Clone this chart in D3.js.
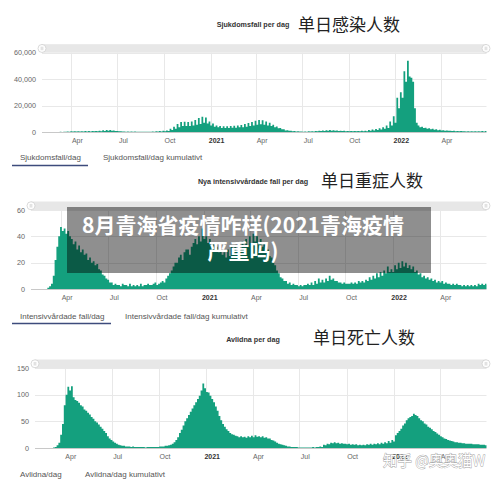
<!DOCTYPE html>
<html><head><meta charset="utf-8">
<script src="https://cdn.jsdelivr.net/npm/d3@7"></script>
<style>body{margin:0;background:#fff}svg{display:block}</style>
</head><body>
<svg id="c" width="500" height="481"></svg>
<script>
// ---------- DATA ----------
const startDate = "2020-02-03";   // first bar; each value covers half a week (3.5 days)
const endDate = "2022-06-30";

// Sjukdomsfall per dag (two values per week)
const casesValues = [
  0,0, 0,0, 10,0, 20,5,                          // Feb 3 2020
  60,20, 150,80, 250,150, 350,250,               // Mar 2
  500,350, 600,400, 650,400, 650,450,            // Mar 30
  700,450, 700,450, 750,500, 800,500,            // Apr 27
  1000,600, 1300,800, 1600,1000, 1500,900,       // May 25
  1200,700, 800,500, 500,300, 400,250,           // Jun 22
  300,200, 300,200, 300,200, 250,150,            // Jul 20
  250,150, 250,150, 250,180, 300,200,            // Aug 17
  500,300, 700,400, 900,600, 1200,800,           // Sep 14
  2500,1500, 4000,2500, 6000,3500, 7500,4500,    // Oct 12
  7800,4500, 7500,4500, 8000,5000, 9000,5500,    // Nov 9
  10500,6000, 11500,7000, 11000,6500, 8000,5000, // Dec 7
  6500,4000, 5000,3500, 4500,3000, 4300,3000,    // Jan 4 2021
  4300,3000, 4500,3200, 4800,3300, 5000,3500,    // Feb 1
  5300,3600, 6000,4000, 6800,4500, 7500,5000,    // Mar 1
  8500,5500, 9000,5800, 8800,5500, 8000,5000,    // Mar 29
  7000,4500, 5500,3500, 4200,2800, 3000,2000,    // Apr 26
  2000,1200, 1400,900, 900,600, 700,450,         // May 24
  500,300, 400,250, 400,250, 500,300,            // Jun 21
  600,400, 800,500, 1000,700, 1200,800,          // Jul 19
  1400,900, 1500,1000, 1400,900, 1200,800,       // Aug 16
  1000,700, 900,600, 800,550, 700,500,           // Sep 13
  700,500, 800,500, 900,600, 1000,650,           // Oct 11
  1500,1000, 1800,1200, 2200,1500, 2800,1800,    // Nov 8
  3500,2500, 5000,3000, 8000,5000, 12000,7000,   // Dec 6
  26000,18000, 30000,26000, 46000,38000, 54000,42000, // Jan 3 2022
  41000,38000, 18000,7000, 5000,3500, 4000,3000, // Jan 31
  3200,2400, 2800,2000, 2400,1700, 2000,1400,    // Feb 28
  1700,1200, 1400,1000, 1200,900, 1000,700,      // Mar 28
  900,600, 800,550, 700,500, 650,450,            // Apr 25
  600,400, 600,400, 600,400, 650,450,            // May 23
  700,450, 700,450                               // Jun 20
];

// Nya intensivvårdade fall per dag
const icuValues = [
  0,0, 0,0, 0,0, 0,0,            // Feb 3 2020
  0,1, 2,4, 10,22, 32,40,        // Mar 2
  47,44, 46,42, 44,40, 38,34,    // Mar 30
  36,30, 33,28, 30,26, 27,22,    // Apr 27
  24,20, 21,18, 19,15, 14,11,    // May 25
  10,8, 7,5, 5,3, 4,3,           // Jun 22
  3,2, 4,3, 3,2, 4,2,            // Jul 20
  3,2, 3,2, 4,2, 3,3,            // Aug 17
  4,3, 3,4, 5,3, 4,5,            // Sep 14
  6,5, 8,10, 12,14, 17,20,       // Oct 12
  20,24, 26,22, 28,30, 30,26,    // Nov 9
  32,35, 38,34, 40,36, 46,38,    // Dec 7
  40,35, 38,33, 35,30, 32,28,    // Jan 4 2021
  30,26, 28,24, 30,25, 32,27,    // Feb 1
  33,29, 35,30, 36,32, 38,33,    // Mar 1
  40,35, 42,36, 40,35, 38,32,    // Mar 29
  35,30, 30,25, 24,20, 18,14,    // Apr 26
  12,9, 8,6, 6,4, 5,3,           // May 24
  4,3, 3,2, 3,2, 3,3,            // Jun 21
  4,3, 5,3, 6,4, 8,5,            // Jul 19
  7,5, 8,6, 10,7, 8,6,           // Aug 16
  6,5, 5,4, 5,4, 4,4,            // Sep 13
  5,4, 5,4, 6,5, 6,5,            // Oct 11
  7,6, 9,7, 10,8, 12,9,          // Nov 8
  13,10, 14,12, 17,13, 15,13,    // Dec 6
  18,15, 20,16, 21,17, 20,16,    // Jan 3 2022
  18,15, 17,13, 14,11, 12,9,     // Jan 31
  10,8, 9,7, 8,6, 7,5,           // Feb 28
  6,5, 6,4, 5,4, 4,3,            // Mar 28
  4,3, 4,3, 3,2, 3,2,            // Apr 25
  3,2, 3,2, 3,2, 4,3,            // May 23
  4,3, 4,3                       // Jun 20
];

// Avlidna per dag
const deathsValues = [
  0,0, 0,0, 0,0, 0,0,                // Feb 3 2020
  0,0, 1,2, 5,10, 25,45,             // Mar 2
  80,100, 115,108, 116,95, 90,88,    // Mar 30
  85,80, 78,72, 70,66, 63,58,        // Apr 27
  55,50, 48,44, 40,36, 32,28,        // May 25
  22,18, 15,12, 10,8, 6,5,           // Jun 22
  4,4, 3,3, 3,2, 3,2,                // Jul 20
  2,2, 2,2, 2,1, 2,2,                // Aug 17
  2,2, 2,2, 2,3, 3,3,                // Sep 14
  4,4, 5,6, 8,11, 15,20,             // Oct 12
  28,34, 42,50, 56,62, 68,74,        // Nov 9
  80,86, 92,98, 108,121, 112,105,    // Dec 7
  104,98, 92,86, 78,70, 60,52,       // Jan 4 2021
  45,40, 35,32, 28,26, 25,23,        // Feb 1
  22,20, 22,20, 21,19, 22,20,        // Mar 1
  23,20, 24,21, 22,20, 22,19,        // Mar 29
  20,18, 18,15, 14,12, 10,8,         // Apr 26
  7,6, 5,4, 3,3, 2,2,                // May 24
  2,2, 1,1, 1,1, 1,1,                // Jun 21
  1,1, 2,1, 2,2, 3,2,                // Jul 19
  6,5, 8,7, 10,9, 11,9,              // Aug 16
  10,8, 9,8, 8,7, 8,6,               // Sep 13
  7,6, 7,5, 6,5, 6,5,                // Oct 11
  7,6, 8,6, 8,7, 9,7,                // Nov 8
  10,8, 11,9, 13,10, 15,12,          // Dec 6
  24,28, 32,36, 42,46, 52,56,        // Jan 3 2022
  58,60, 64,62, 60,56, 52,50,        // Jan 31
  46,44, 40,38, 35,32, 30,27,        // Feb 28
  25,22, 20,18, 17,15, 14,13,        // Mar 28
  12,11, 11,10, 10,9, 9,8,           // Apr 25
  8,8, 8,7, 7,7, 7,6,                // May 23
  6,6, 5,5                           // Jun 20
];

const casesTicks = [0, 20000, 40000, 60000];
const icuTicks = [0, 20, 40, 60];
const deathsTicks = [0, 50, 100, 150];

const swedishTitles = ["Sjukdomsfall per dag", "Nya intensivvårdade fall per dag", "Avlidna per dag"];
const chineseTitles = ["单日感染人数", "单日重症人数", "单日死亡人数"];
const tabLabels = [
  ["Sjukdomsfall/dag", "Sjukdomsfall/dag kumulativt"],
  ["Intensivvårdade fall/dag", "Intensivvårdade fall/dag kumulativt"],
  ["Avlidna/dag", "Avlidna/dag kumulativt"]
];
const overlayLines = ["8月青海省疫情咋样(2021青海疫情", "严重吗)"];
const watermarkText = "知乎 @奥奥猫W";

// ---------- DRAWING ----------
const svg = d3.select("#c");
const parse = d3.utcParse("%Y-%m-%d");
const t0 = parse(startDate), t1 = parse(endDate);
const LATIN = "'Liberation Sans', Arial, sans-serif";
const CJK = "'Noto Sans CJK SC', 'Noto Sans', sans-serif";
const TEAL = "#14a07e";
const GRID = "#e8e8e8";
const RIGHT = 486.5;

const layouts = [
  {values: casesValues, ticks: casesTicks, fmt: d3.format(","), left: 42, top: 52.7, bottom: 132,
   swY: 26.5, cnX: 298, cnY: 30.5, tabY: 160, tab2X: 103, ulY: 165.5, ulX2: 88},
  {values: icuValues, ticks: icuTicks, fmt: d3.format("d"), left: 31, top: 210, bottom: 289,
   swY: 184, cnX: 321, cnY: 186.5, tabY: 318.5, tab2X: 125, ulY: 323.5, ulX2: 111},
  {values: deathsValues, ticks: deathsTicks, fmt: d3.format("d"), left: 35, top: 368, bottom: 448,
   swY: 341.5, cnX: 313, cnY: 343.5, tabY: 477, tab2X: 85, ulY: 483, ulX2: 64}
];

layouts.forEach((L, pi) => {
  const g = svg.append("g");
  const x = d3.scaleUtc().domain([t0, t1]).range([L.left, RIGHT]);
  const y = d3.scaleLinear().domain([0, L.ticks[L.ticks.length - 1]]).range([L.bottom, L.top]);

  // titles
  g.append("text").attr("x", 253).attr("y", L.swY).attr("text-anchor", "middle")
    .attr("font-family", LATIN).attr("font-weight", "bold").attr("font-size", 7.2)
    .attr("fill", "#333").text(swedishTitles[pi]);
  g.append("text").attr("x", L.cnX).attr("y", L.cnY)
    .attr("font-family", CJK).attr("font-size", 17).attr("fill", "#222")
    .text(chineseTitles[pi]);

  // navigator band
  g.append("rect").attr("x", L.left).attr("y", L.top - 8.5)
    .attr("width", RIGHT - L.left).attr("height", 8.5).attr("fill", "#e7e7e7");

  // horizontal gridlines
  g.selectAll(".hg").data(L.ticks.slice(1)).enter().append("line")
    .attr("x1", L.left).attr("x2", RIGHT)
    .attr("y1", d => Math.round(y(d)) + 0.5).attr("y2", d => Math.round(y(d)) + 0.5)
    .attr("stroke", GRID);

  // vertical gridlines
  const qt = d3.utcMonth.every(3).range(t0, t1);
  g.selectAll(".vg").data(qt).enter().append("line")
    .attr("x1", d => Math.round(x(d)) + 0.5).attr("x2", d => Math.round(x(d)) + 0.5)
    .attr("y1", L.top).attr("y2", L.bottom).attr("stroke", GRID);

  // series as stepped area (one step per value)
  const clipId = "clip" + pi;
  svg.append("clipPath").attr("id", clipId).append("rect")
    .attr("x", L.left).attr("y", L.top - 10).attr("width", RIGHT - L.left).attr("height", L.bottom - L.top + 10);
  const pts = L.values.map((v, i) => ({t: d3.utcHour.offset(t0, i * 84), v}));
  pts.push({t: d3.utcHour.offset(t0, L.values.length * 84), v: L.values[L.values.length - 1]});
  const area = d3.area().curve(d3.curveStepAfter)
    .x(d => x(d.t)).y0(L.bottom).y1(d => y(d.v));
  g.append("path").attr("clip-path", `url(#${clipId})`)
    .attr("d", area(pts)).attr("fill", TEAL);

  // baseline
  g.append("line").attr("x1", L.left).attr("x2", RIGHT)
    .attr("y1", L.bottom + 0.5).attr("y2", L.bottom + 0.5).attr("stroke", "#c8c8c8");

  // y labels
  g.selectAll(".yl").data(L.ticks).enter().append("text")
    .attr("x", L.left - 6).attr("y", d => y(d)).attr("dy", "0.35em")
    .attr("text-anchor", "end").attr("font-family", LATIN).attr("font-size", 7.2)
    .attr("fill", "#666").text(d => L.fmt(d));

  // x labels
  g.selectAll(".xl").data(qt).enter().append("text")
    .attr("x", d => x(d) + 6).attr("y", L.bottom + 11)
    .attr("text-anchor", "middle").attr("font-family", LATIN).attr("font-size", 7)
    .attr("font-weight", d => d.getUTCMonth() === 0 ? "bold" : "normal")
    .attr("fill", d => d.getUTCMonth() === 0 ? "#333" : "#666")
    .text(d => d.getUTCMonth() === 0 ? d3.utcFormat("%Y")(d) : d3.utcFormat("%b")(d));

  // navigator handles
  [L.left, RIGHT - 0.5].forEach(hx => {
    const cy = L.top - 4.25;
    g.append("circle").attr("cx", hx).attr("cy", cy).attr("r", 4)
      .attr("fill", "#fff").attr("stroke", "#cfcfcf").attr("stroke-width", 0.8);
    [-0.8, 0.8].forEach(o => g.append("line")
      .attr("x1", hx + o).attr("x2", hx + o).attr("y1", cy - 1.8).attr("y2", cy + 1.8)
      .attr("stroke", "#bbb").attr("stroke-width", 0.6));
  });

  // tabs
  g.append("text").attr("x", 20).attr("y", L.tabY).attr("font-family", LATIN)
    .attr("font-size", 8).attr("fill", "#555").text(tabLabels[pi][0]);
  g.append("text").attr("x", L.tab2X).attr("y", L.tabY).attr("font-family", LATIN)
    .attr("font-size", 8).attr("fill", "#555").text(tabLabels[pi][1]);
  g.append("line").attr("x1", 12).attr("x2", L.ulX2).attr("y1", L.ulY).attr("y2", L.ulY)
    .attr("stroke", "#3d4b7c").attr("stroke-width", 1.5);
});

// overlay title box
svg.append("rect").attr("x", 67).attr("y", 207).attr("width", 364).attr("height", 66)
  .attr("fill", "rgba(0,0,0,0.44)");
svg.selectAll(".ov").data(overlayLines).enter().append("text")
  .attr("x", 243).attr("y", (d, i) => 233 + i * 25.5).attr("text-anchor", "middle")
  .attr("font-family", CJK).attr("font-weight", "bold").attr("font-size", 21)
  .attr("fill", "#fff").text(d => d);

// watermark
svg.append("text").attr("x", 383).attr("y", 466).attr("font-family", CJK)
  .attr("font-size", 14.5).attr("fill", "#fff").attr("stroke", "#9a9a9a")
  .attr("stroke-width", 0.8).attr("paint-order", "stroke").attr("opacity", 0.95)
  .text(watermarkText);
</script>
</body></html>
